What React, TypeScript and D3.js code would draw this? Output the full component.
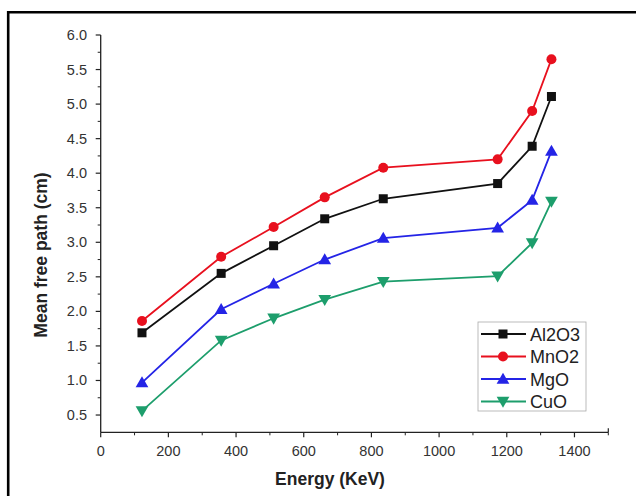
import React from "react";
import * as d3 from "d3";

const energies = [122, 356, 511, 662, 835, 1173, 1275, 1332];
const al2o3 = [1.69, 2.55, 2.95, 3.34, 3.63, 3.85, 4.39, 5.11];
const mno2 = [1.86, 2.79, 3.22, 3.65, 4.08, 4.2, 4.9, 5.65];
const mgo = [0.97, 2.03, 2.4, 2.75, 3.06, 3.21, 3.61, 4.32];
const cuo = [0.56, 1.58, 1.9, 2.17, 2.43, 2.51, 2.99, 3.59];
const seriesNames = ["Al2O3", "MnO2", "MgO", "CuO"];
const xTicks = [0, 200, 400, 600, 800, 1000, 1200, 1400];
const yTicks = [0.5, 1.0, 1.5, 2.0, 2.5, 3.0, 3.5, 4.0, 4.5, 5.0, 5.5, 6.0];

const W = 636;
const H = 496;
const L = 100.7, R = 608.3, T = 35, B = 432.3;
const FONT = "'Liberation Sans', Arial, sans-serif";

const series = [
  { name: seriesNames[0], values: al2o3, color: "#111111", marker: "square" },
  { name: seriesNames[1], values: mno2, color: "#e8101e", marker: "circle" },
  { name: seriesNames[2], values: mgo, color: "#2424e6", marker: "up" },
  { name: seriesNames[3], values: cuo, color: "#1d9e6c", marker: "down" },
];

function Marker({ type, x, y, color }: { type: string; x: number; y: number; color: string }) {
  if (type === "square") return <rect x={x - 4.5} y={y - 4.5} width={9} height={9} fill={color} />;
  if (type === "circle") return <circle cx={x} cy={y} r={5} fill={color} />;
  const sym = d3.symbol().type(d3.symbolTriangle).size(70)();
  return (
    <path d={sym || ""} transform={`translate(${x},${y + (type === "up" ? 1 : -1)}) rotate(${type === "up" ? 0 : 180})`} fill={color} />
  );
}

export default function App() {
  const x = d3.scaleLinear().domain([0, 1500]).range([L, R]);
  const y = d3.scaleLinear().domain([0.25, 6.0]).range([B, T]);
  const line = d3
    .line<[number, number]>()
    .x((d) => x(d[0]))
    .y((d) => y(d[1]));
  const xMinor = d3.range(100, 1501, 200);
  const yMinor = d3.range(0.75, 6.0, 0.5);

  const legX = 478, legY = 322, legW = 108, legH = 89;
  return (
    <svg width={W} height={H} style={{ position: "absolute", left: 0, top: 0, background: "#fff" }} fontFamily={FONT}>
      <rect x={0} y={0} width={W} height={H} fill="#fff" />
      {/* frame */}
      <line x1={8.2} y1={11} x2={8.2} y2={H} stroke="#000" strokeWidth={2.6} />
      <line x1={7} y1={12.2} x2={W} y2={12.2} stroke="#000" strokeWidth={2.6} />

      {/* axes */}
      <line x1={L} y1={T} x2={L} y2={B} stroke="#222" strokeWidth={1.3} />
      <line x1={L} y1={B} x2={R} y2={B} stroke="#222" strokeWidth={1.3} />
      <line x1={R} y1={B} x2={R} y2={B - 4} stroke="#222" strokeWidth={1.2} />
      {yTicks.map((t) => (
        <g key={"y" + t}>
          <line x1={L - 5} x2={L} y1={y(t)} y2={y(t)} stroke="#222" strokeWidth={1.2} />
          <text x={87} y={y(t) + 5} textAnchor="end" fontSize={14.5} fill="#333">
            {t.toFixed(1)}
          </text>
        </g>
      ))}
      {yMinor.map((t) => (
        <line key={"ym" + t} x1={L - 3} x2={L} y1={y(t)} y2={y(t)} stroke="#222" strokeWidth={1} />
      ))}
      {xTicks.map((t) => (
        <g key={"x" + t}>
          <line x1={x(t)} x2={x(t)} y1={B} y2={B + 5} stroke="#222" strokeWidth={1.2} />
          <text x={x(t)} y={B + 24} textAnchor="middle" fontSize={14.5} fill="#333">
            {t}
          </text>
        </g>
      ))}
      {xMinor.map((t) => (
        <line key={"xm" + t} x1={x(t)} x2={x(t)} y1={B} y2={B + 3} stroke="#222" strokeWidth={1} />
      ))}

      {/* titles */}
      <text x={330} y={485} textAnchor="middle" fontSize={17.5} fontWeight="bold" fill="#222">
        Energy (KeV)
      </text>
      <text
        transform={`translate(47,255) rotate(-90)`}
        textAnchor="middle"
        fontSize={17.5}
        fontWeight="bold"
        fill="#222"
      >
        Mean free path (cm)
      </text>

      {/* series */}
      {series.map((s) => {
        const pts = energies.map((e, i) => [e, s.values[i]] as [number, number]);
        return (
          <g key={s.name}>
            <path d={line(pts) || ""} fill="none" stroke={s.color} strokeWidth={1.8} />
            {pts.map((p, i) => (
              <Marker key={i} type={s.marker} x={x(p[0])} y={y(p[1])} color={s.color} />
            ))}
          </g>
        );
      })}

      {/* legend */}
      <rect x={legX} y={legY} width={legW} height={legH} fill="#fff" stroke="#aaa" strokeWidth={0.8} />
      {series.map((s, i) => {
        const cy = legY + 12 + i * 22.5;
        return (
          <g key={"l" + s.name}>
            <line x1={legX + 3} x2={legX + 48} y1={cy} y2={cy} stroke={s.color} strokeWidth={1.8} />
            <Marker type={s.marker} x={legX + 25} y={cy} color={s.color} />
            <text x={legX + 52} y={cy + 6.5} fontSize={18} fill="#222">
              {s.name}
            </text>
          </g>
        );
      })}
    </svg>
  );
}
